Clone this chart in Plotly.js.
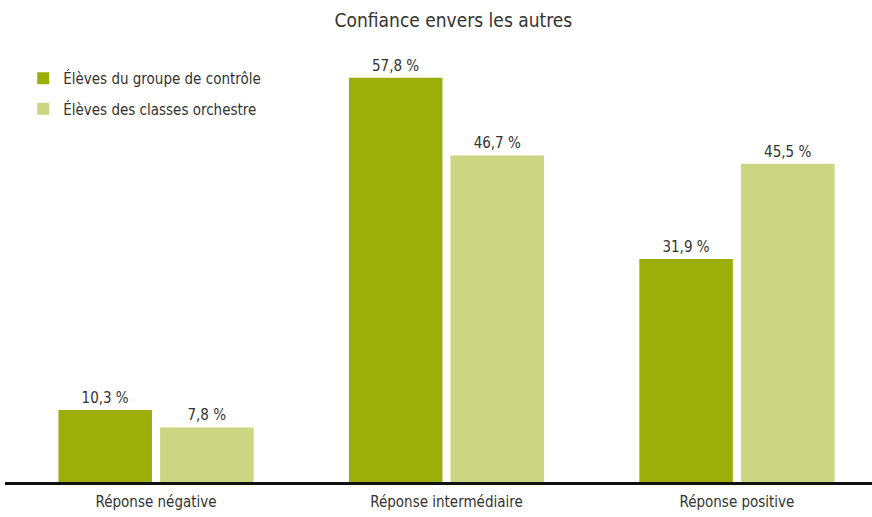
<!DOCTYPE html>
<html>
<head>
<meta charset="utf-8">
<script src="https://cdn.plot.ly/plotly-3.0.1.min.js"></script>
<style>
  body { margin: 0; background: #fff; }
  #chart { width: 872px; height: 517px; }
</style>
</head>
<body>
<div id="chart"></div>
<script>
// categories and series values (percentages)
const categories = ["Réponse négative", "Réponse intermédiaire", "Réponse positive"];
const controle = [10.3, 57.8, 31.9];
const orchestre = [7.8, 46.7, 45.5];
const seriesNames = ["Élèves du groupe de contrôle", "Élèves des classes orchestre"];

const font = "'Liberation Sans Narrow', 'DejaVu Sans Condensed', 'Liberation Sans', sans-serif";

const traceControle = {
  x: categories,
  y: controle,
  type: 'bar',
  name: seriesNames[0],
  legendgroup: 'a',
  marker: { color: '#9cae0a' },
  texttemplate: '%{y:.1f} %',
  textposition: 'outside',
  textfont: { family: font, size: 15, color: '#333' },
  cliponaxis: false,
  hoverinfo: 'y'
};

const traceOrchestre = {
  x: categories,
  y: orchestre,
  type: 'bar',
  name: seriesNames[1],
  legendgroup: 'b',
  marker: { color: '#cbd683' },
  texttemplate: '%{y:.1f} %',
  textposition: 'outside',
  textfont: { family: font, size: 15, color: '#333' },
  cliponaxis: false,
  hoverinfo: 'y'
};

const layout = {
  width: 872,
  height: 517,
  margin: { l: 5, r: 0, t: 40, b: 35 },
  paper_bgcolor: '#fff',
  plot_bgcolor: '#fff',
  separators: ', ',
  font: { family: font, color: '#333' },
  title: {
    text: 'Confiance envers les autres',
    font: { family: font, size: 19, color: '#333' },
    x: 0.52, xanchor: 'center',
    y: 0.96, yanchor: 'middle'
  },
  barmode: 'group',
  bargap: 0.3,
  bargroupgap: 0.08,
  showlegend: true,
  legend: {
    x: 0.021, y: 0.95, xanchor: 'left', yanchor: 'top',
    font: { family: font, size: 15, color: '#333' },
    tracegroupgap: 8,
    traceorder: 'grouped',
    bgcolor: 'rgba(0,0,0,0)'
  },
  xaxis: {
    type: 'category',
    range: [-0.52, 2.465],
    showline: true,
    linecolor: '#111',
    linewidth: 3,
    ticks: '',
    ticklabelstandoff: 4,
    tickfont: { family: font, size: 15, color: '#333' },
    showgrid: false,
    zeroline: false
  },
  yaxis: {
    range: [0, 63.2],
    visible: false,
    showgrid: false,
    zeroline: false
  }
};

Plotly.newPlot('chart', [traceControle, traceOrchestre], layout, { displayModeBar: false, staticPlot: true });
</script>
</body>
</html>
